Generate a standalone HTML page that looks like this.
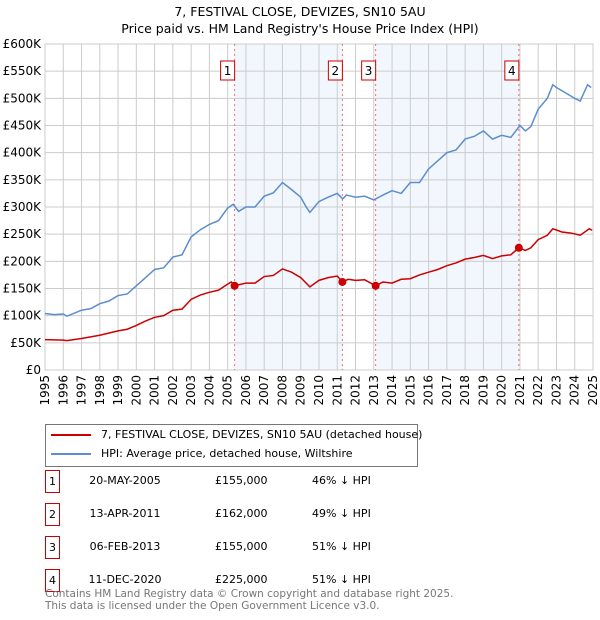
<!DOCTYPE html>
<html><head><meta charset="utf-8"><style>
body{margin:0;background:#fff;font-family:"DejaVu Sans","Liberation Sans",sans-serif;}
#wrap{position:relative;width:600px;height:620px;overflow:hidden;}
.t{position:absolute;white-space:nowrap;color:#000;}
</style></head><body>
<div id="wrap">
<div class="t" style="left:0;width:600px;text-align:center;top:3px;font-size:12.5px;line-height:17px">7, FESTIVAL CLOSE, DEVIZES, SN10 5AU<br>Price paid vs. HM Land Registry's House Price Index (HPI)</div>
<svg id="chart" width="600" height="420" style="position:absolute;left:0;top:0" font-family="DejaVu Sans, Liberation Sans, sans-serif"></svg>
<div style="position:absolute;left:45px;top:424px;width:371px;height:41px;border:1px solid #777;font-size:11px;white-space:nowrap">
 <div style="position:absolute;left:5px;top:3px"><span style="display:inline-block;width:40px;height:2px;background:#cc0000;vertical-align:middle;margin-right:10px"></span>7, FESTIVAL CLOSE, DEVIZES, SN10 5AU (detached house)</div>
 <div style="position:absolute;left:5px;top:22px"><span style="display:inline-block;width:40px;height:2px;background:#5b8dd0;vertical-align:middle;margin-right:10px"></span>HPI: Average price, detached house, Wiltshire</div>
</div>
<div id="table"></div>
<div class="t" style="left:45px;top:588px;font-size:10.5px;line-height:12px;color:#777">Contains HM Land Registry data © Crown copyright and database right 2025.<br>This data is licensed under the Open Government Licence v3.0.</div>
</div>
<script>
const hpiYears=[1995,1995.5,1996,1996.2,1997,1997.5,1998,1998.5,1999,1999.5,2000,2000.5,2001,2001.5,2002,2002.5,2003,2003.5,2004,2004.5,2005,2005.3,2005.6,2006,2006.5,2007,2007.5,2008,2008.5,2009,2009.3,2009.5,2010,2010.5,2011,2011.3,2011.5,2012,2012.5,2013,2013.5,2014,2014.5,2015,2015.5,2016,2016.5,2017,2017.5,2018,2018.5,2019,2019.5,2020,2020.5,2021,2021.3,2021.6,2022,2022.5,2022.8,2023,2023.5,2024,2024.3,2024.7,2024.9];
const hpiValues=[104,102,103,99,110,113,122,127,137,140,155,170,185,188,208,212,245,258,268,275,298,305,292,300,300,320,326,345,332,318,300,290,310,318,325,315,322,318,320,313,322,330,325,345,345,370,385,400,405,425,430,440,425,432,428,450,440,448,480,500,525,520,510,500,495,525,520];
const propYears=[1995,1996,1996.2,1997,1998,1999,1999.5,2000,2000.5,2001,2001.5,2002,2002.5,2003,2003.5,2004,2004.5,2005,2005.2,2005.38,2006,2006.5,2007,2007.5,2008,2008.5,2009,2009.5,2010,2010.5,2011,2011.28,2011.6,2012,2012.5,2013.1,2013.5,2014,2014.5,2015,2015.5,2016,2016.5,2017,2017.5,2018,2018.5,2019,2019.5,2020,2020.5,2020.94,2021.3,2021.6,2022,2022.5,2022.8,2023.3,2023.8,2024.3,2024.8,2024.95];
const propValues=[56,55,54,58,64,72,75,82,90,97,100,110,112,130,138,143,147,158,162,155,160,160,172,174,186,180,170,153,165,170,173,162,167,165,166,155,162,160,167,168,175,180,185,192,197,204,207,211,205,210,212,225,220,225,240,248,260,254,252,248,260,257];
const saleYears=[2005.38,2011.28,2013.1,2020.94];
const saleValues=[155,162,155,225];
const saleLabels=["1","2","3","4"];
const saleDates=["20-MAY-2005","13-APR-2011","06-FEB-2013","11-DEC-2020"];
const salePrices=["£155,000","£162,000","£155,000","£225,000"];
const saleDiffs=["46% ↓ HPI","49% ↓ HPI","51% ↓ HPI","51% ↓ HPI"];
const yTicks=[0,50,100,150,200,250,300,350,400,450,500,550,600];
const yTickLabels=["£0","£50K","£100K","£150K","£200K","£250K","£300K","£350K","£400K","£450K","£500K","£550K","£600K"];
const xTicks=[1995,1996,1997,1998,1999,2000,2001,2002,2003,2004,2005,2006,2007,2008,2009,2010,2011,2012,2013,2014,2015,2016,2017,2018,2019,2020,2021,2022,2023,2024,2025];

const X0=45,X1=593,Y0=370,Y1=44;
const x=v=>X0+(v-1995)/30*(X1-X0);
const y=v=>Y0-v/600*(Y0-Y1);
const svg=document.getElementById('chart');
const NS='http://www.w3.org/2000/svg';
function mk(tag,attrs,parent){const e=document.createElementNS(NS,tag);for(const k in attrs)e.setAttribute(k,attrs[k]);(parent||svg).appendChild(e);return e;}
[[0,1],[2,3]].forEach(p=>{
 const r=mk('rect',{x:x(saleYears[p[0]]),y:Y1,width:x(saleYears[p[1]])-x(saleYears[p[0]]),height:Y0-Y1,fill:'#eef3fc',opacity:0.75});
 
 
});
yTicks.forEach((t,i)=>{
 const l=mk('line',{x1:X0,x2:X1,y1:y(t),y2:y(t),stroke:'#ccc','stroke-width':1});
 
 
 const tx=mk('text',{x:X0-4,y:y(t)+4,'text-anchor':'end','font-size':12,fill:'#000'});
 tx.textContent=yTickLabels[i];
 
 
});
xTicks.forEach(t=>{
 const l=mk('line',{x1:x(t),x2:x(t),y1:Y1,y2:Y0,stroke:'#ccc','stroke-width':1});
 
 
 const tx=mk('text',{x:0,y:0,'text-anchor':'end','font-size':12,fill:'#000',transform:`translate(${x(t)+4},${Y0+5}) rotate(-90)`});
 tx.textContent=String(t);
 
 
});
const fr=mk('rect',{x:X0,y:Y1,width:X1-X0,height:Y0-Y1,fill:'none',stroke:'#ccc'});


saleYears.forEach((s,i)=>{
 const l=mk('line',{x1:x(s),x2:x(s),y1:Y1,y2:Y0,stroke:'#f07070','stroke-width':1,'stroke-dasharray':'2,3'});
 
 
 const b=mk('rect',{x:x(s)-14,y:61,width:14,height:19,fill:'#fff',stroke:'#cc0000'});
 
 
 const t=mk('text',{x:x(s)-7,y:75,'text-anchor':'middle','font-size':12});
 t.textContent=saleLabels[i];
 
 
});
const hp=mk('polyline',{points:hpiYears.map((yr,i)=>x(yr)+','+y(hpiValues[i])).join(' '),fill:'none',stroke:'#5b8dd0','stroke-width':1.5});


const pp=mk('polyline',{points:propYears.map((yr,i)=>x(yr)+','+y(propValues[i])).join(' '),fill:'none',stroke:'#cc0000','stroke-width':1.5});


saleYears.forEach((s,i)=>{
 const c=mk('circle',{cx:x(s),cy:y(saleValues[i]),r:4,fill:'#cc0000'});
 
 
});
const tb=document.getElementById('table');
saleLabels.forEach((lab,i)=>{
 const top=470+i*33;
 const row=document.createElement('div');
 
 
 row.style.cssText=`position:absolute;left:0;top:${top}px;width:600px;height:24px;font-size:11px;white-space:nowrap`;
 row.innerHTML=`<div style="position:absolute;left:45px;top:0;width:13px;height:21px;border:1px solid #cc0000;text-align:center;line-height:21px">${lab}</div>`+
 `<div style="position:absolute;left:70px;width:110px;text-align:center;top:4px">${saleDates[i]}</div>`+
 `<div style="position:absolute;left:215px;top:4px">${salePrices[i]}</div>`+
 `<div style="position:absolute;left:312px;top:4px">${saleDiffs[i]}</div>`;
 tb.appendChild(row);
});
</script>
</body></html>
